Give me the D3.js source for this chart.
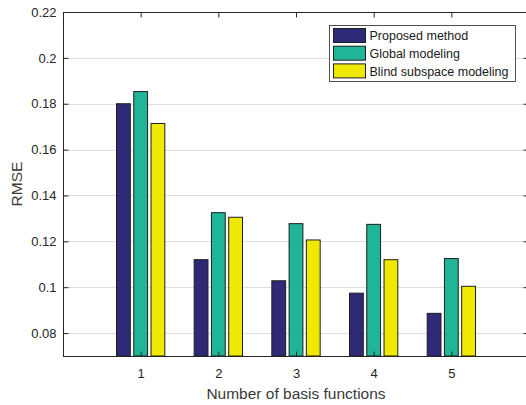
<!DOCTYPE html>
<html>
<head>
<meta charset="utf-8">
<script src="https://cdn.jsdelivr.net/npm/d3@7"></script>
<style>
  html, body { margin: 0; padding: 0; background: #fff; }
  svg { display: block; }
  text { font-family: "Liberation Sans", Arial, Helvetica, sans-serif; fill: #262626; }
</style>
</head>
<body>
<svg id="chart" width="526" height="405"></svg>
<script>
// RMSE per number of basis functions, one array per method
const categories = [1, 2, 3, 4, 5];
const seriesNames = ["Proposed method", "Global modeling", "Blind subspace modeling"];
const proposed = [0.1800, 0.1120, 0.1028, 0.0974, 0.0886];
const globalModel = [0.1853, 0.1325, 0.1277, 0.1274, 0.1125];
const blindSubspace = [0.1714, 0.1305, 0.1206, 0.1120, 0.1004];
const yTicks = [0.08, 0.1, 0.12, 0.14, 0.16, 0.18, 0.2, 0.22];
const colors = ["#2e2a78", "#20b597", "#efe800"];

const seriesValues = [proposed, globalModel, blindSubspace];

const svg = d3.select("#chart");
const plotL = 63, plotR = 529, plotT = 12, plotB = 356;

const x = d3.scaleLinear().domain([0, 6]).range([plotL, plotR]);
const y = d3.scaleLinear().domain([0.07, 0.22]).range([plotB, plotT]);

// grouped bar geometry (3 series per group)
const groupWidth = Math.min(0.8, 3 / (3 + 1.5));
const step = groupWidth / 3;
const barW = step * 0.8;

// horizontal grid
svg.append("g")
  .selectAll("line")
  .data(yTicks)
  .join("line")
  .attr("x1", plotL).attr("x2", plotR)
  .attr("y1", d => Math.round(y(d)) + 0.5).attr("y2", d => Math.round(y(d)) + 0.5)
  .attr("stroke", "#dedede").attr("stroke-width", 1);

// bars
seriesValues.forEach((vals, s) => {
  svg.append("g")
    .selectAll("rect")
    .data(categories.map((c, i) => ({ c, v: vals[i] })))
    .join("rect")
    .attr("x", d => x(d.c - groupWidth / 2 + step * s + (step - barW) / 2))
    .attr("width", x(barW) - x(0))
    .attr("y", d => y(d.v))
    .attr("height", d => y(0.07) - y(d.v))
    .attr("fill", colors[s])
    .attr("stroke", "#1e1e1e")
    .attr("stroke-width", 1);
});

// axes box with inward ticks
const axisColor = "#262626";
const textColor = "#3a3a3a";
const yAxisL = d3.axisLeft(y).tickValues(yTicks).tickSize(-5).tickPadding(7)
  .tickFormat(d => String(+d.toFixed(2)));
const yAxisR = d3.axisRight(y).tickValues(yTicks).tickSize(-5).tickFormat("");
const xAxisB = d3.axisBottom(x).tickValues(categories).tickSize(-5).tickPadding(12)
  .tickFormat(d3.format("d"));
const xAxisT = d3.axisTop(x).tickValues(categories).tickSize(-5).tickFormat("");

function style(g) {
  g.selectAll("path, line").attr("stroke", axisColor);
  g.select(".domain").attr("stroke", axisColor);
  g.selectAll("text").attr("fill", textColor).style("font-size", "13px")
    .style("font-family", "'Liberation Sans', Arial, sans-serif");
}

svg.append("g").attr("transform", `translate(${plotL + 0.5},0)`).call(yAxisL).call(style)
  .call(g => g.select(".domain").attr("d", `M0,${plotT + 0.5}V${plotB + 0.5}`));
svg.append("g").attr("transform", `translate(${plotR - 0.5},0)`).call(yAxisR).call(style)
  .call(g => g.select(".domain").attr("d", `M0,${plotT + 0.5}V${plotB + 0.5}`));
svg.append("g").attr("transform", `translate(0,${plotB + 0.5})`).call(xAxisB).call(style)
  .call(g => g.select(".domain").attr("d", `M${plotL},0H${plotR}`));
svg.append("g").attr("transform", `translate(0,${plotT + 0.5})`).call(xAxisT).call(style)
  .call(g => g.select(".domain").attr("d", `M${plotL},0H${plotR}`));

// axis titles
svg.append("text")
  .attr("x", 296).attr("y", 399)
  .attr("text-anchor", "middle")
  .style("font-size", "15.5px").style("fill", textColor)
  .text("Number of basis functions");

svg.append("text")
  .attr("transform", `translate(22,${(plotT + plotB) / 2}) rotate(-90)`)
  .attr("text-anchor", "middle")
  .style("font-size", "15.5px").style("fill", textColor)
  .text("RMSE");

// legend
const lg = svg.append("g").attr("transform", "translate(329.5,25.5)");
lg.append("rect").attr("width", 186).attr("height", 56)
  .attr("fill", "#fff").attr("stroke", "#262626").attr("stroke-width", 0.8);
seriesNames.forEach((name, i) => {
  const row = lg.append("g").attr("transform", `translate(0,${3 + i * 17.7})`);
  row.append("rect").attr("x", 4).attr("y", 0).attr("width", 32).attr("height", 14)
    .attr("fill", colors[i]).attr("stroke", "#1e1e1e").attr("stroke-width", 1);
  row.append("text").attr("x", 40).attr("y", 11.8)
    .style("font-size", "12.5px").style("fill", "#1a1a1a").text(name);
});
</script>
</body>
</html>
